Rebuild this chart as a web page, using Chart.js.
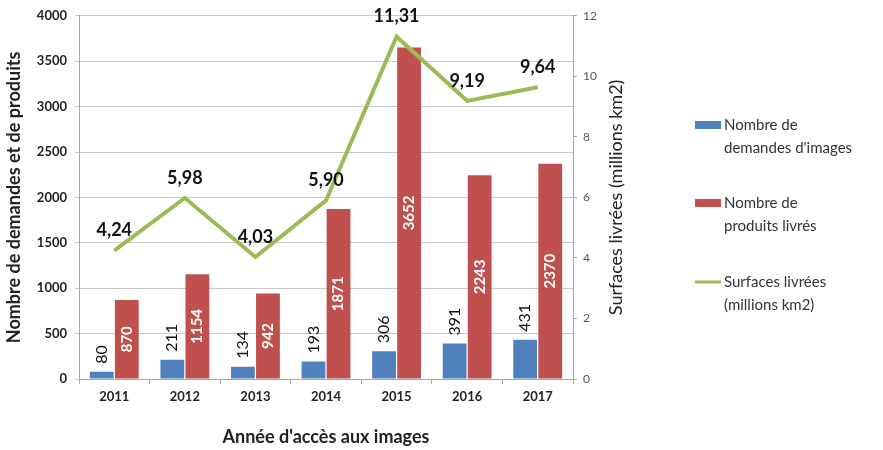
<!DOCTYPE html>
<html>
<head>
<meta charset="utf-8">
<script src="https://cdn.jsdelivr.net/npm/chart.js@4.4.1/dist/chart.umd.min.js"></script>
<style>
	html, body { margin: 0; padding: 0; background: #fff; }
	#wrap { width: 883px; height: 450px; }
</style>
</head>
<body>
<div id="wrap"><canvas id="myChart" width="883" height="450"></canvas></div>
<script>
const years = ["2011", "2012", "2013", "2014", "2015", "2016", "2017"];
const demandes = [80, 211, 134, 193, 306, 391, 431];
const produits = [870, 1154, 942, 1871, 3652, 2243, 2370];
const surfaces = [4.24, 5.98, 4.03, 5.90, 11.31, 9.19, 9.64];
const legendItems = [
	["Nombre de", "demandes d'images"],
	["Nombre de", "produits livrés"],
	["Surfaces livrées", "(millions km2)"],
];
const rightTitle = "Surfaces livrées (millions km2)";

const BLUE = "#4f81bd";
const RED = "#c0504d";
const GREEN = "#9bbb59";
const FONT = "Lato";

function frNumber(v) {
	return v.toFixed(2).replace(".", ",");
}

const labelPlugin = {
	id: "valueLabels",
	afterDatasetsDraw(chart) {
		const ctx = chart.ctx;
		// blue bars : value above bar, rotated
		chart.getDatasetMeta(0).data.forEach((bar, i) => {
			ctx.save();
			ctx.translate(bar.x, bar.y - 8);
			ctx.rotate(-Math.PI / 2);
			ctx.font = `16px ${FONT}`;
			ctx.fillStyle = "#111";
			ctx.textAlign = "left";
			ctx.textBaseline = "middle";
			ctx.fillText(String(demandes[i]), 0, 0);
			ctx.restore();
		});
		// red bars : value centered inside bar, white
		chart.getDatasetMeta(1).data.forEach((bar, i) => {
			ctx.save();
			ctx.translate(bar.x, (bar.y + bar.base) / 2);
			ctx.rotate(-Math.PI / 2);
			ctx.font = `bold 15px ${FONT}`;
			ctx.fillStyle = "#fff";
			ctx.textAlign = "center";
			ctx.textBaseline = "middle";
			ctx.fillText(String(produits[i]), 0, 0);
			ctx.restore();
		});
		// line : value above point
		chart.getDatasetMeta(2).data.forEach((pt, i) => {
			ctx.save();
			ctx.font = `bold 18px ${FONT}`;
			ctx.fillStyle = "#111";
			ctx.textAlign = "center";
			ctx.textBaseline = "bottom";
			ctx.fillText(frNumber(surfaces[i]), pt.x, pt.y - 11);
			ctx.restore();
		});
	},
};

const legendPlugin = {
	id: "sideLegend",
	afterDraw(chart) {
		const ctx = chart.ctx;
		const colors = [BLUE, RED, GREEN];
		const tops = [125, 203, 282];
		ctx.save();
		ctx.font = `15px ${FONT}`;
		ctx.textAlign = "left";
		ctx.textBaseline = "middle";
		legendItems.forEach((lines, i) => {
			const y = tops[i];
			ctx.fillStyle = colors[i];
			if (i < 2) {
				ctx.fillRect(695, y - 4, 26, 8);
			} else {
				ctx.fillRect(695, y - 1.5, 26, 3);
			}
			ctx.fillStyle = "#333";
			lines.forEach((line, j) => {
				ctx.fillText(line, 724, y + j * 23);
			});
		});
		// right axis title, read bottom to top
		const area = chart.chartArea;
		ctx.translate(616, (area.top + area.bottom) / 2);
		ctx.rotate(-Math.PI / 2);
		ctx.font = `18px ${FONT}`;
		ctx.fillStyle = "#222";
		ctx.textAlign = "center";
		ctx.textBaseline = "middle";
		ctx.fillText(rightTitle, 0, 0);
		ctx.restore();
	},
};

let chart = null;
document.addEventListener("DOMContentLoaded", () => {
	chart = new Chart(document.getElementById("myChart"), {
		type: "bar",
		data: {
			labels: years,
			datasets: [
				{
					label: "Nombre de demandes d'images",
					data: demandes,
					backgroundColor: BLUE,
					yAxisID: "y",
					order: 2,
					categoryPercentage: 0.71,
					barPercentage: 0.95,
				},
				{
					label: "Nombre de produits livrés",
					data: produits,
					backgroundColor: RED,
					yAxisID: "y",
					order: 2,
					categoryPercentage: 0.71,
					barPercentage: 0.95,
				},
				{
					type: "line",
					label: "Surfaces livrées (millions km2)",
					data: surfaces,
					borderColor: GREEN,
					borderWidth: 4,
					pointRadius: 0,
					tension: 0,
					fill: false,
					yAxisID: "y2",
					order: 1,
				},
			],
		},
		options: {
			responsive: false,
			devicePixelRatio: 1,
			animation: false,
			layout: {
				padding: { top: 12, right: 255, bottom: 0, left: 0 },
			},
			plugins: {
				legend: { display: false },
				tooltip: { enabled: false },
			},
			scales: {
				x: {
					afterFit: (s) => { s.height = 71; },
					grid: {
						offset: true,
						drawOnChartArea: false,
						color: "#a6a6a6",
						tickLength: 5,
					},
					border: { color: "#a6a6a6" },
					ticks: {
						color: "#222",
						font: { family: FONT, size: 13, weight: "bold" },
						padding: 5,
					},
					title: {
						display: true,
						text: "Année d'accès aux images",
						color: "#222",
						font: { family: FONT, size: 18, weight: "bold" },
						padding: { top: 0, bottom: 2 },
					},
				},
				y: {
					position: "left",
					min: 0,
					max: 4000,
					afterFit: (s) => { s.width = 79; },
					ticks: {
						stepSize: 500,
						color: "#222",
						font: { family: FONT, size: 13, weight: "bold" },
						padding: 8,
						callback: (v) => String(v),
					},
					grid: { color: "#c8c8c8", tickLength: 4 },
					border: { color: "#a6a6a6" },
					title: {
						display: true,
						text: "Nombre de demandes et de produits",
						color: "#222",
						font: { family: FONT, size: 18, weight: "bold" },
						padding: { top: 3, bottom: 0 },
					},
				},
				y2: {
					position: "right",
					min: 0,
					max: 12,
					afterFit: (s) => { s.width = 55; },
					ticks: {
						stepSize: 2,
						color: "#555",
						font: { family: FONT, size: 12 },
						padding: 6,
					},
					grid: { drawOnChartArea: false, color: "#a6a6a6", tickLength: 4 },
					border: { color: "#a6a6a6" },
				},
			},
		},
		plugins: [labelPlugin, legendPlugin],
	});
});
</script>
</body>
</html>
